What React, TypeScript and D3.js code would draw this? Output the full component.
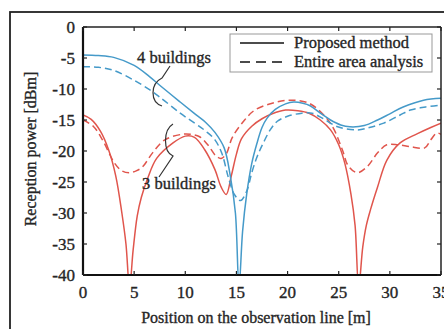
import React from "react";
import * as d3 from "d3";

// ---- data ----
const xTicks = [0, 5, 10, 15, 20, 25, 30, 35];
const yTicks = [0, -5, -10, -15, -20, -25, -30, -35, -40];

// 4 buildings, proposed method (solid blue)
const blueSolidX = [0, 1.5, 3, 5, 6.5, 7.5, 9.5, 11, 12, 12.9, 13.8, 14.4, 14.9, 15.25, 15.6, 16, 16.5, 17, 17.5, 18, 18.8, 19.8, 20.6, 21.5, 22.2, 23.2, 24.2, 25.2, 26.1, 27.5, 28.8, 30, 31.3, 33.3, 35];
const blueSolidY = [-4.5, -4.6, -4.9, -6.2, -8.0, -9.4, -12.1, -14.1, -15.4, -17.0, -19.5, -24, -30, -42, -33, -27, -22, -18.8, -16.2, -14.7, -13.3, -12.4, -12.1, -12.3, -12.7, -13.9, -15.0, -15.8, -16.1, -15.9, -15.0, -14.0, -12.9, -11.8, -11.5];

// 4 buildings, entire area analysis (dashed blue)
const blueDashX = [0, 1.5, 3, 5, 6.5, 7.5, 9.5, 11, 12, 12.9, 13.6, 14.2, 14.8, 15.4, 16, 16.5, 17, 17.6, 18.3, 19, 20, 21.4, 22.4, 23.5, 24.9, 26.8, 28, 29.4, 31, 32, 33.5, 35];
const blueDashY = [-6.4, -6.5, -7.0, -8.6, -10.1, -11.3, -13.9, -15.6, -16.8, -18.2, -20.5, -24.2, -27, -28, -26.5, -23.5, -21, -18.8, -16.6, -15.2, -14.4, -13.9, -13.9, -14.8, -16.1, -16.6, -16.2, -15.5, -14.2, -13.4, -12.9, -12.6];

// 3 buildings, proposed method (solid red)
const redSolidX = [0, 0.8, 1.7, 2.5, 3.2, 3.8, 4.2, 4.55, 4.9, 5.3, 5.7, 6.3, 7.2, 8.8, 10, 10.9, 11.9, 12.9, 13.5, 14.0, 14.5, 15.0, 15.5, 16.5, 17.5, 18.5, 19.8, 21, 22.1, 23.2, 24.2, 25, 25.6, 26.2, 26.6, 26.95, 27.35, 27.7, 28.1, 28.8, 29.7, 31, 32.7, 34, 35];
const redSolidY = [-14.2, -14.9, -16.8, -19.8, -24, -30, -35, -42, -36, -30.5, -27.5, -24.5, -21.2, -18.7, -17.6, -17.8, -19.8, -23, -25.8, -27, -24, -20.5, -18, -16, -14.8, -14.0, -13.4, -13.5, -13.9, -15.0, -16.6, -19.0, -22.0, -27, -32, -42, -35.5, -32, -29.5, -25.8, -21.5, -18.7, -17.2, -16.2, -15.5];

// 3 buildings, entire area analysis (dashed red)
const redDashX = [0, 1, 1.9, 3.1, 3.8, 4.5, 5.2, 5.8, 6.8, 8, 9.7, 10.5, 11.4, 12.2, 13.0, 13.5, 14.0, 14.6, 15.8, 16.8, 18.5, 20.2, 22.1, 23.7, 24.5, 25.4, 25.9, 26.8, 27.8, 28.8, 29.7, 30.8, 32, 33.4, 34, 34.6, 35];
const redDashY = [-15, -16, -18.2, -22, -23.2, -23.5, -23.2, -22.6, -20.3, -18.2, -17.3, -17.3, -17.7, -19, -20.8, -21.2, -20.5, -17.8, -15, -13.4, -12.3, -11.8, -12.3, -14.5, -16.4, -20, -22.3, -23.5, -22.5, -20.3, -19, -19, -19.3, -19.5, -18.2, -17.1, -17.3];

const legendLabels = ["Proposed method", "Entire area analysis"];

const BLUE = "#459ac9";
const RED = "#e0554c";
const FONT = "'Liberation Serif', 'Times New Roman', serif";
const TXT = { fontFamily: FONT, fill: "#262626", stroke: "#262626", strokeWidth: 0.35 };

export default function App() {
  const W = 444, H = 329;
  const left = 83, right = 441, top = 27, bottom = 275;
  const x = d3.scaleLinear().domain([0, 35]).range([left, right]);
  const y = d3.scaleLinear().domain([-40, 0]).range([bottom, top]);
  const line = d3
    .line<[number, number]>()
    .x((d) => x(d[0]))
    .y((d) => y(d[1]))
    .curve(d3.curveCatmullRom.alpha(0.5));
  const zip = (xs: number[], ys: number[]) => xs.map((v, i) => [v, ys[i]] as [number, number]);

  const series = [
    { xs: redSolidX, ys: redSolidY, color: RED, dash: undefined },
    { xs: redDashX, ys: redDashY, color: RED, dash: "7,4" },
    { xs: blueSolidX, ys: blueSolidY, color: BLUE, dash: undefined },
    { xs: blueDashX, ys: blueDashY, color: BLUE, dash: "7,4" },
  ];

  return (
    <svg width={W} height={H} style={{ position: "absolute", left: 0, top: 0, background: "#fff" }}>
      <defs>
        <clipPath id="plotclip">
          <rect x={left} y={top} width={right - left} height={bottom - top} />
        </clipPath>
      </defs>
      {/* outer frame */}
      <rect x={10} y={12} width={460} height={340} fill="none" stroke="#222" strokeWidth={1.8} />

      {/* curves */}
      <g clipPath="url(#plotclip)">
        {series.map((s, i) => (
          <path key={i} d={line(zip(s.xs, s.ys)) || ""} fill="none" stroke={s.color}
            strokeWidth={1.5} strokeDasharray={s.dash} />
        ))}
      </g>

      {/* axes frame */}
      <line x1={left} y1={top} x2={right} y2={top} stroke="#222" strokeWidth={1.5} />
      <line x1={right} y1={top} x2={right} y2={bottom} stroke="#222" strokeWidth={1.5} />
      <line x1={left} y1={top} x2={left} y2={bottom} stroke="#111" strokeWidth={2.2} />
      <line x1={left} y1={bottom} x2={right} y2={bottom} stroke="#111" strokeWidth={2.2} />

      {/* ticks */}
      {xTicks.map((t) => (
        <g key={"x" + t}>
          <line x1={x(t)} x2={x(t)} y1={bottom} y2={bottom - 4} stroke="#222" strokeWidth={1.2} />
          <line x1={x(t)} x2={x(t)} y1={top} y2={top + 4} stroke="#222" strokeWidth={1.2} />
          <text x={x(t)} y={298} textAnchor="middle" fontSize={17} {...TXT}>{t}</text>
        </g>
      ))}
      {yTicks.map((t) => (
        <g key={"y" + t}>
          <line x1={left} x2={left + 4} y1={y(t)} y2={y(t)} stroke="#222" strokeWidth={1.2} />
          <line x1={right} x2={right - 4} y1={y(t)} y2={y(t)} stroke="#222" strokeWidth={1.2} />
          <text x={75} y={y(t)} dy="0.35em" textAnchor="end" fontSize={17} {...TXT}>{t}</text>
        </g>
      ))}

      {/* axis titles */}
      <text x={256} y={323} textAnchor="middle" fontSize={16} {...TXT}>
        Position on the observation line [m]
      </text>
      <text transform="translate(30,149) rotate(-90)" dy="0.35em" textAnchor="middle" fontSize={16} {...TXT}>
        Reception power [dBm]
      </text>

      {/* legend */}
      <rect x={230} y={34} width={202} height={38} fill="#fff" stroke="#999" strokeWidth={1} />
      <line x1={240} x2={284} y1={43} y2={43} stroke="#111" strokeWidth={1.6} />
      <line x1={240} x2={284} y1={62} y2={62} stroke="#111" strokeWidth={1.6} strokeDasharray="10,6" />
      <text x={294} y={48} fontSize={16.5} {...TXT}>{legendLabels[0]}</text>
      <text x={294} y={67} fontSize={16.5} {...TXT}>{legendLabels[1]}</text>

      {/* annotations */}
      <text x={137} y={63} fontSize={16.5} {...TXT}>4 buildings</text>
      <path d="M170,66 L162,78 C150,84 150,102 162,106" fill="none" stroke="#333" strokeWidth={1.2} />
      <text x={142} y={189} fontSize={16.5} {...TXT}>3 buildings</text>
      <path d="M173,124 C163,130 163,152 173,156 L159,177" fill="none" stroke="#333" strokeWidth={1.2} />
    </svg>
  );
}
